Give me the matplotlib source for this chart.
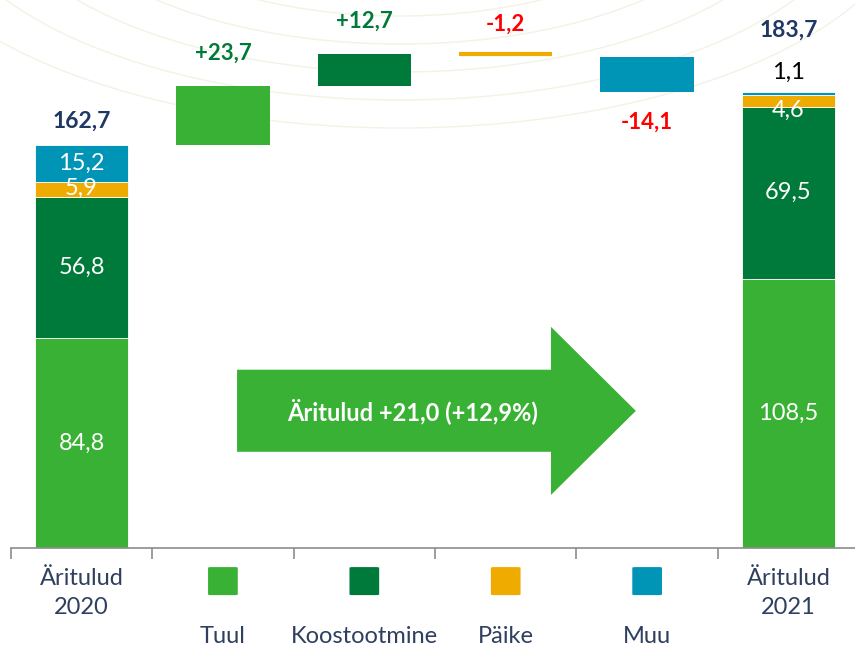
import matplotlib.pyplot as plt
from matplotlib.patches import Polygon, Ellipse, FancyBboxPatch
import numpy as np

plt.rcParams['font.family'] = ['Lato', 'DejaVu Sans']

# data
categories = ["Äritulud\n2020", "Tuul", "Koostootmine", "Päike", "Muu", "Äritulud\n2021"]
segments = ["Tuul", "Koostootmine", "Päike", "Muu"]
colors = ["#39B135", "#007A3A", "#F0AB00", "#0095B6"]
start_vals = [84.8, 56.8, 5.9, 15.2]
end_vals = [108.5, 69.5, 4.6, 1.1]
changes = [23.7, 12.7, -1.2, -14.1]
change_labels = ["+23,7", "+12,7", "-1,2", "-14,1"]
start_total = "162,7"
end_total = "183,7"
arrow_text = "Äritulud +21,0 (+12,9%)"

navy = "#1F3864"
label_col = "#2F3F5F"

fig = plt.figure(figsize=(8.55, 6.52), dpi=100)

# faint decorative arcs in the background
bg = fig.add_axes([0, 0, 1, 1], zorder=0)
bg.set_xlim(0, 855)
bg.set_ylim(652, 0)
bg.axis("off")
for i, r in enumerate(np.linspace(150, 400, 7)):
    bg.add_patch(Ellipse((400, -130 + i * 3), 2.6 * r, 1.2 * r, fill=False,
                         ec="#F1F3E4", lw=1.0))

ax = fig.add_axes([10.8 / 855, 1 - 548 / 652, 844.2 / 855, 548 / 652], zorder=1)
ax.patch.set_alpha(0)
ax.set_xlim(-0.5, 5.47)
ax.set_ylim(0, 221)
w = 0.66

# stacked totals
for xi, vals in [(0, start_vals), (5, end_vals)]:
    bottom = 0
    for v, c in zip(vals, colors):
        ax.bar(xi, v, w, bottom=bottom, color=c, edgecolor="white", linewidth=0.6)
        bottom += v

fs = 17
# value labels inside the totals
ax.text(0, start_vals[0] / 2, "84,8", ha="center", va="center", color="white", fontsize=fs)
ax.text(0, start_vals[0] + start_vals[1] / 2, "56,8", ha="center", va="center", color="white", fontsize=fs)
ax.text(0, sum(start_vals[:2]) + start_vals[2] / 2 + 0.6, "5,9", ha="center", va="center", color="white", fontsize=fs)
ax.text(0, sum(start_vals[:3]) + start_vals[3] / 2, "15,2", ha="center", va="center", color="white", fontsize=fs)
ax.text(0, sum(start_vals) + 5, start_total, ha="center", va="bottom", color=navy, fontsize=16.5, fontweight="bold")

ax.text(5, end_vals[0] / 2, "108,5", ha="center", va="center", color="white", fontsize=fs)
ax.text(5, end_vals[0] + end_vals[1] / 2, "69,5", ha="center", va="center", color="white", fontsize=fs)
ax.text(5, sum(end_vals[:2]) - 1.5, "4,6", ha="center", va="center", color="white", fontsize=fs)
ax.text(5, sum(end_vals) + 4, "1,1", ha="center", va="bottom", color="black", fontsize=fs)
ax.text(5, sum(end_vals) + 21, end_total, ha="center", va="bottom", color=navy, fontsize=16.5, fontweight="bold")

# floating change bars
level = sum(start_vals)
for i, (d, c, lab) in enumerate(zip(changes, colors, change_labels)):
    xi = i + 1
    lo = min(level, level + d)
    h = abs(d)
    if h < 2:
        ax.plot([xi - w / 2, xi + w / 2], [level, level], color=c, lw=3, solid_capstyle="butt")
    else:
        ax.bar(xi, h, w, bottom=lo, color=c)
    if d > 0:
        ax.text(xi, level + d + 9, lab, ha="center", va="bottom", color="#007A3A", fontsize=16, fontweight="bold")
    elif h < 2:
        ax.text(xi, level + 8, lab, ha="center", va="bottom", color="#FF0000", fontsize=16, fontweight="bold")
    else:
        ax.text(xi, lo - 8, lab, ha="center", va="top", color="#FF0000", fontsize=16, fontweight="bold")
    level += d

# big arrow
arrow = Polygon([(1.10, 38.8), (3.32, 38.8), (3.32, 21.4), (3.92, 55.3),
                 (3.32, 89.2), (3.32, 71.9), (1.10, 71.9)],
                closed=True, fc="#39B135", ec="none")
ax.add_patch(arrow)
ax.text(2.34, 55.3, arrow_text, ha="center", va="center", color="white", fontsize=17, fontweight="bold")

# axis
for s in ["top", "right", "left"]:
    ax.spines[s].set_visible(False)
ax.spines["bottom"].set_color("#8C8C8C")
ax.spines["bottom"].set_linewidth(1.2)
ax.set_yticks([])
ax.set_xticks(np.arange(-0.5, 5.5, 1.0))
ax.set_xticklabels([])
ax.tick_params(axis="x", length=8, color="#8C8C8C", width=1.2)

# category labels and legend squares
ax.text(0, -8, categories[0], ha="center", va="top", color=label_col, fontsize=fs, linespacing=1.5)
ax.text(5, -8, categories[5], ha="center", va="top", color=label_col, fontsize=fs, linespacing=1.5)
for i, (name, c) in enumerate(zip(segments, colors)):
    xi = i + 1
    ax.add_patch(FancyBboxPatch((xi - 0.105, -19), 0.21, 11.3, boxstyle="round,pad=0,rounding_size=0.02",
                                fc=c, ec="none", clip_on=False, mutation_aspect=15))
    ax.text(xi, -31.5, name, ha="center", va="top", color=label_col, fontsize=fs)

fig.savefig("out.png", dpi=100)
